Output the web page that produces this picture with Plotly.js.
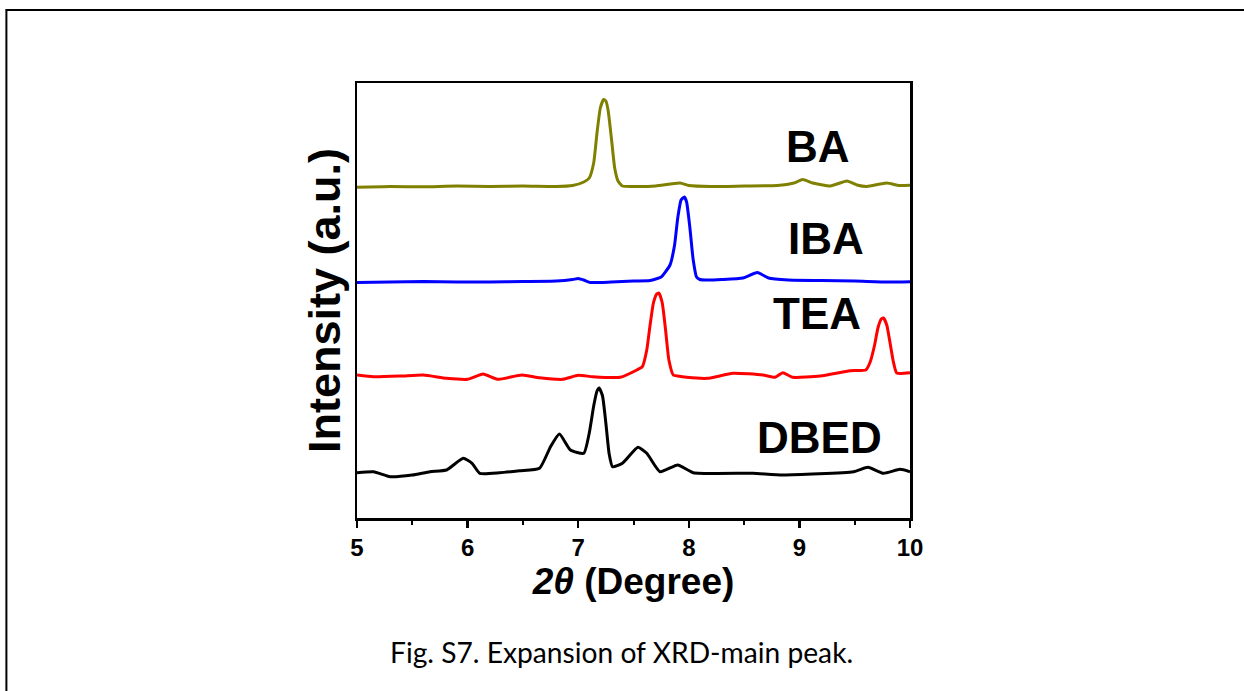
<!DOCTYPE html>
<html>
<head>
<meta charset="utf-8">
<script src="https://cdn.plot.ly/plotly-3.0.1.min.js"></script>
<style>html,body{margin:0;padding:0;background:#fff;}#chart{width:1244px;height:691px;}</style>
</head>
<body>
<div id="chart"></div>
<script>
// 2θ positions and stacked intensities (a.u., offset per sample)
const baX = [5.0,5.3,5.6,5.9,6.2,6.5,6.8,6.95,7.05,7.1,7.14,7.17,7.2,7.23,7.25,7.27,7.3,7.33,7.36,7.4,7.5,7.7,7.92,8.0,8.2,8.5,8.8,8.95,9.03,9.12,9.28,9.43,9.52,9.61,9.79,9.9,10.0];
const baY = [330.7,331.5,331.2,332,331.5,332,331.5,332.5,336,340,355,385,410,418.5,417,408,380,350,337,332,331.5,332,335,332.5,331.5,332,332.5,335,338.5,335,332,337,333,331.5,335,332.5,332.7];

const ibaX = [5.0,5.3,5.6,5.9,6.2,6.5,6.8,6.95,7.0,7.05,7.11,7.3,7.5,7.65,7.75,7.83,7.87,7.9,7.93,7.96,7.98,8.01,8.04,8.07,8.1,8.15,8.3,8.49,8.62,8.72,8.9,9.2,9.5,9.8,10.0];
const ibaY = [235.5,236,236.5,236,236,236.5,237,238.5,239.5,238,235.5,236,237,237.5,241,253,272,300,318,321,316,290,258,241,238.5,238,238.5,240,245.5,240,238,237.5,237,236,236.3];

const teaX = [5.0,5.15,5.4,5.6,5.81,6.0,6.14,6.27,6.49,6.65,6.86,7.0,7.13,7.38,7.53,7.58,7.62,7.65,7.68,7.71,7.73,7.76,7.79,7.82,7.86,7.9,7.98,8.17,8.4,8.67,8.78,8.85,8.94,9.19,9.46,9.6,9.64,9.68,9.71,9.74,9.76,9.79,9.82,9.85,9.88,10.0];
const teaY = [143,141.3,142,143,139.7,138.7,144,138.7,143,140.3,138.7,142.7,141.3,140.7,148,151.3,168,193,215,224,225,215,188,158,143,142,140.7,139.7,144.7,143,140.7,145.3,140.7,142,147.3,148,156,173,190,199,200,193,175,156,145,145.3];

const dbedX = [5.0,5.15,5.3,5.5,5.66,5.81,5.96,6.04,6.11,6.29,6.47,6.65,6.75,6.83,6.93,7.05,7.1,7.14,7.17,7.19,7.22,7.25,7.28,7.31,7.4,7.54,7.62,7.74,7.9,8.04,8.58,8.85,9.49,9.62,9.76,9.91,10.0];
const dbedY = [45.3,46.3,41.3,43,46.3,48,59.7,54.7,44.7,45.3,47.3,49.7,71.3,84,68,64.7,85,112,127,130,122,95,64,51.3,54.7,70.7,64.7,46.3,53,45.3,44.7,43,46.3,50.7,44.7,48.7,46.3];

const sampleNames = ["BA","IBA","TEA","DBED"];
const xTickVals = [5,6,7,8,9,10];
const xTickText = ["5","6","7","8","9","10"];

const colors = ["#808000","#0000FF","#FF0000","#000000"];
const xs = [baX, ibaX, teaX, dbedX];
const ys = [baY, ibaY, teaY, dbedY];

const traces = xs.map((x, i) => ({
  x: x, y: ys[i], type: "scatter", mode: "lines", name: sampleNames[i],
  line: {color: colors[i], width: 3, shape: "spline", smoothing: 0.5},
  showlegend: false, hoverinfo: "skip"
}));

// label anchor positions (data coords), kept separate from data
const labelPos = [[9.17,372],[9.24,279.5],[9.16,205],[9.18,80.5]];
const boldFont = {family: "Liberation Sans, Arial, sans-serif", color: "#000", weight: "bold"};

const annotations = sampleNames.map((n, i) => ({
  x: labelPos[i][0], y: labelPos[i][1], xref: "x", yref: "y",
  text: n, showarrow: false, xanchor: "center", yanchor: "middle",
  font: Object.assign({}, boldFont, {size: 44})
}));
annotations.push({
  x: 0.479, y: -0.308, xref: "paper", yref: "paper",
  text: "Fig. S7. Expansion of XRD-main peak.", showarrow: false,
  xanchor: "center", yanchor: "middle",
  font: {family: "Lato, 'Open Sans', sans-serif", size: 28.2, color: "#000"}
});

const layout = {
  width: 1244, height: 691,
  margin: {l: 357, r: 334, t: 83, b: 173, pad: 0},
  paper_bgcolor: "#fff", plot_bgcolor: "#fff",
  showlegend: false,
  xaxis: {
    range: [5, 10], tickvals: xTickVals, ticktext: xTickText,
    ticks: "outside", ticklen: 7, tickwidth: 2.5, tickcolor: "#000",
    minor: {dtick: 0.5, ticks: "outside", ticklen: 4, tickwidth: 2, tickcolor: "#000"},
    showline: true, linewidth: 2.5, linecolor: "#000", mirror: true,
    showgrid: false, zeroline: false,
    tickfont: Object.assign({}, boldFont, {size: 24}),
    title: {text: "<i>2θ</i> (Degree)", font: Object.assign({}, boldFont, {size: 37}), standoff: 0}
  },
  yaxis: {
    range: [0, 435], showticklabels: false, ticks: "",
    showline: true, linewidth: 2.5, linecolor: "#000", mirror: true,
    showgrid: false, zeroline: false,
    title: {text: "Intensity (a.u.)", font: Object.assign({}, boldFont, {size: 45}), standoff: 0}
  },
  annotations: annotations,
  shapes: [
    {type: "line", xref: "paper", yref: "paper", x0: -0.635, x1: 1.62, y0: 1.1678, y1: 1.1678, line: {color: "#000", width: 2}},
    {type: "line", xref: "paper", yref: "paper", x0: -0.634, x1: -0.634, y0: 1.17, y1: -0.42, line: {color: "#000", width: 2}}
  ]
};

Plotly.newPlot("chart", traces, layout, {displayModeBar: false, staticPlot: true});
</script>
</body>
</html>
